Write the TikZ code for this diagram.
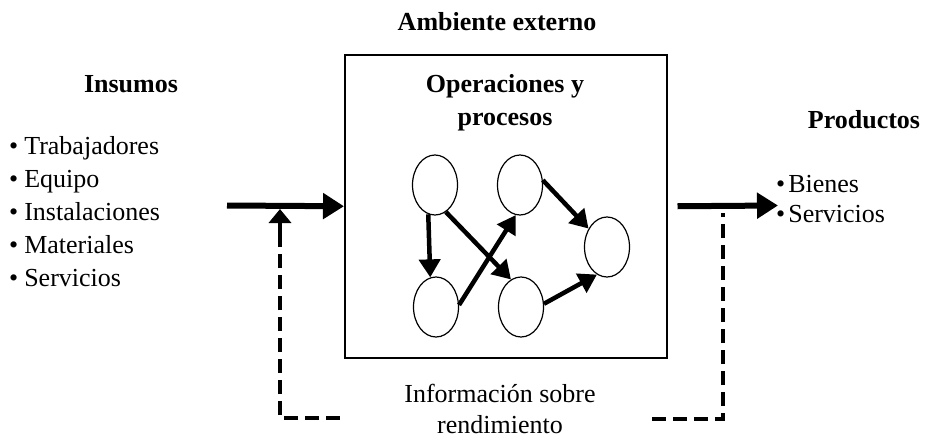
\documentclass[tikz,border=0pt]{standalone}
\usepackage{fontspec}
\setmainfont{Liberation Serif}
\usetikzlibrary{arrows.meta,shapes.geometric}
\begin{document}
\begin{tikzpicture}[x=1pt,y=-1pt,
  txt/.style={font=\fontsize{26}{33}\selectfont, inner sep=0pt},
  head/.style={inner sep=0pt, font=\fontsize{26}{33}\selectfont\bfseries},
  proc/.style={ellipse, draw, line width=1.2pt, minimum width=45pt, minimum height=60pt, inner sep=0pt},
  flow/.style={line width=4.5pt, -{Triangle[length=18pt,width=21pt]}},
  bigflow/.style={line width=6pt, -{Triangle[length=21pt,width=25pt]}},
  fb/.style={line width=4.5pt, dash pattern=on 14pt off 7pt},
  fbtip/.style={line width=4.5pt, solid, -{Triangle[length=14pt,width=22pt]}},
]
\useasboundingbox (0,0) rectangle (926,439);

% main box
\node[draw, line width=1.5pt, minimum width=322pt, minimum height=303pt, anchor=north west, inner sep=0pt] (box) at (344,54) {};

% headings
\node[head, anchor=base] (amb) at (497,30) {Ambiente externo};
\node[head, anchor=base] (ops1) at (505,92) {Operaciones y};
\node[head, anchor=base] (ops2) at (505,125) {procesos};
\node[head, anchor=base] (ins) at (131,92) {Insumos};
\node[head, anchor=base] (prod) at (864,128) {Productos};

% input list
\node[txt, anchor=base west] (i1) at (9,154) {•\hspace{6pt}Trabajadores};
\node[txt, anchor=base west] (i2) at (9,187) {•\hspace{6pt}Equipo};
\node[txt, anchor=base west] (i3) at (9,220) {•\hspace{6pt}Instalaciones};
\node[txt, anchor=base west] (i4) at (9,253) {•\hspace{6pt}Materiales};
\node[txt, anchor=base west] (i5) at (9,286) {•\hspace{6pt}Servicios};

% output list
\node[txt, anchor=base west] (o1) at (776,192) {•\hspace{3pt}Bienes};
\node[txt, anchor=base west] (o2) at (776,222) {•\hspace{3pt}Servicios};

% feedback text
\node[txt, anchor=base] (inf1) at (500,402) {Información sobre};
\node[txt, anchor=base] (inf2) at (500,433) {rendimiento};

% process circles
\node[proc] (c1) at (435,185) {};
\node[proc] (c2) at (520,185) {};
\node[proc] (c3) at (607,247) {};
\node[proc] (c4) at (436,307) {};
\node[proc] (c5) at (521,307) {};

\draw[flow] (c1.257) -- (c4.101);
\draw[flow] (c1.292) -- (c5.110);
\draw[flow] (c4.5) -- (c2.262);
\draw[flow] (c2.12) -- (c3.135);
\draw[flow] (c5.8) -- (c3.250);

% main flow arrows
\coordinate (inS) at (227,205.5);
\coordinate (outE) at (778,205.5);
\draw[bigflow] (inS) -- (box.west);
\draw[bigflow] ([xshift=10pt]box.east) -- (outE);

% feedback loop
\coordinate (fbL) at (340,418);
\coordinate (fbLc) at (280,418);
\coordinate (fbLm) at (280,232);
\coordinate (fbLt) at (280,209);
\coordinate (fbR) at (652,419);
\coordinate (fbRc) at (723,419);
\coordinate (fbRt) at (723,213);
\draw[fb] (fbL) -- (fbLc) -- (fbLm);
\draw[fbtip] ([yshift=-4pt]fbLm) -- (fbLt);
\draw[fb] (fbR) -- (fbRc) -- (fbRt);
\end{tikzpicture}
\end{document}
